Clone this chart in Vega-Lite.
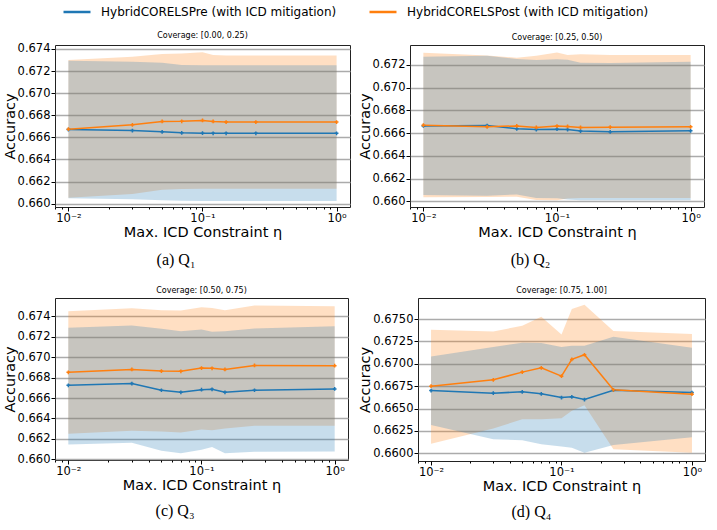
{
  "$schema": "https://vega.github.io/schema/vega-lite/v6.json",
  "background": "white",
  "padding": {"left": 1, "top": 4, "right": 0, "bottom": 0},
  "datasets": {
    "acc": [
      {"panel": "Q1", "method": "Pre", "eta": 0.01, "mean": 0.66671, "lo": 0.66050, "hi": 0.67294},
      {"panel": "Q1", "method": "Pre", "eta": 0.03, "mean": 0.66662, "lo": 0.66040, "hi": 0.67285},
      {"panel": "Q1", "method": "Pre", "eta": 0.05, "mean": 0.66650, "lo": 0.66030, "hi": 0.67276},
      {"panel": "Q1", "method": "Pre", "eta": 0.07, "mean": 0.66641, "lo": 0.66026, "hi": 0.67255},
      {"panel": "Q1", "method": "Pre", "eta": 0.1, "mean": 0.66638, "lo": 0.66024, "hi": 0.67252},
      {"panel": "Q1", "method": "Pre", "eta": 0.12, "mean": 0.66637, "lo": 0.66024, "hi": 0.67252},
      {"panel": "Q1", "method": "Pre", "eta": 0.15, "mean": 0.66637, "lo": 0.66024, "hi": 0.67252},
      {"panel": "Q1", "method": "Pre", "eta": 0.25, "mean": 0.66637, "lo": 0.66024, "hi": 0.67252},
      {"panel": "Q1", "method": "Pre", "eta": 1, "mean": 0.66637, "lo": 0.66024, "hi": 0.67252},
      {"panel": "Q1", "method": "Post", "eta": 0.01, "mean": 0.66674, "lo": 0.66054, "hi": 0.67300},
      {"panel": "Q1", "method": "Post", "eta": 0.03, "mean": 0.66714, "lo": 0.66088, "hi": 0.67330},
      {"panel": "Q1", "method": "Post", "eta": 0.05, "mean": 0.66744, "lo": 0.66127, "hi": 0.67355},
      {"panel": "Q1", "method": "Post", "eta": 0.07, "mean": 0.66745, "lo": 0.66133, "hi": 0.67358},
      {"panel": "Q1", "method": "Post", "eta": 0.1, "mean": 0.66753, "lo": 0.66136, "hi": 0.67370},
      {"panel": "Q1", "method": "Post", "eta": 0.12, "mean": 0.66744, "lo": 0.66136, "hi": 0.67346},
      {"panel": "Q1", "method": "Post", "eta": 0.15, "mean": 0.66739, "lo": 0.66136, "hi": 0.67340},
      {"panel": "Q1", "method": "Post", "eta": 0.25, "mean": 0.66739, "lo": 0.66136, "hi": 0.67340},
      {"panel": "Q1", "method": "Post", "eta": 1, "mean": 0.66739, "lo": 0.66136, "hi": 0.67340},

      {"panel": "Q2", "method": "Pre", "eta": 0.01, "mean": 0.66664, "lo": 0.66055, "hi": 0.67273},
      {"panel": "Q2", "method": "Pre", "eta": 0.03, "mean": 0.66667, "lo": 0.66050, "hi": 0.67282},
      {"panel": "Q2", "method": "Pre", "eta": 0.05, "mean": 0.66638, "lo": 0.66060, "hi": 0.67253},
      {"panel": "Q2", "method": "Pre", "eta": 0.07, "mean": 0.66632, "lo": 0.66030, "hi": 0.67244},
      {"panel": "Q2", "method": "Pre", "eta": 0.1, "mean": 0.66635, "lo": 0.66028, "hi": 0.67250},
      {"panel": "Q2", "method": "Pre", "eta": 0.12, "mean": 0.66632, "lo": 0.66015, "hi": 0.67247},
      {"panel": "Q2", "method": "Pre", "eta": 0.15, "mean": 0.66618, "lo": 0.66010, "hi": 0.67220},
      {"panel": "Q2", "method": "Pre", "eta": 0.25, "mean": 0.66612, "lo": 0.66010, "hi": 0.67218},
      {"panel": "Q2", "method": "Pre", "eta": 1, "mean": 0.66621, "lo": 0.66010, "hi": 0.67229},
      {"panel": "Q2", "method": "Post", "eta": 0.01, "mean": 0.66670, "lo": 0.66035, "hi": 0.67308},
      {"panel": "Q2", "method": "Post", "eta": 0.03, "mean": 0.66656, "lo": 0.66038, "hi": 0.67284},
      {"panel": "Q2", "method": "Post", "eta": 0.05, "mean": 0.66664, "lo": 0.66040, "hi": 0.67264},
      {"panel": "Q2", "method": "Post", "eta": 0.07, "mean": 0.66650, "lo": 0.66012, "hi": 0.67282},
      {"panel": "Q2", "method": "Post", "eta": 0.1, "mean": 0.66662, "lo": 0.66009, "hi": 0.67311},
      {"panel": "Q2", "method": "Post", "eta": 0.12, "mean": 0.66659, "lo": 0.66025, "hi": 0.67288},
      {"panel": "Q2", "method": "Post", "eta": 0.15, "mean": 0.66650, "lo": 0.66030, "hi": 0.67294},
      {"panel": "Q2", "method": "Post", "eta": 0.25, "mean": 0.66653, "lo": 0.66030, "hi": 0.67288},
      {"panel": "Q2", "method": "Post", "eta": 1, "mean": 0.66656, "lo": 0.66030, "hi": 0.67288},

      {"panel": "Q3", "method": "Pre", "eta": 0.01, "mean": 0.66724, "lo": 0.66146, "hi": 0.67286},
      {"panel": "Q3", "method": "Pre", "eta": 0.03, "mean": 0.66741, "lo": 0.66163, "hi": 0.67309},
      {"panel": "Q3", "method": "Pre", "eta": 0.05, "mean": 0.66676, "lo": 0.66085, "hi": 0.67277},
      {"panel": "Q3", "method": "Pre", "eta": 0.07, "mean": 0.66656, "lo": 0.66059, "hi": 0.67254},
      {"panel": "Q3", "method": "Pre", "eta": 0.1, "mean": 0.66682, "lo": 0.66094, "hi": 0.67270},
      {"panel": "Q3", "method": "Pre", "eta": 0.12, "mean": 0.66685, "lo": 0.66120, "hi": 0.67247},
      {"panel": "Q3", "method": "Pre", "eta": 0.15, "mean": 0.66656, "lo": 0.66059, "hi": 0.67254},
      {"panel": "Q3", "method": "Pre", "eta": 0.25, "mean": 0.66676, "lo": 0.66075, "hi": 0.67280},
      {"panel": "Q3", "method": "Pre", "eta": 1, "mean": 0.66689, "lo": 0.66078, "hi": 0.67303},
      {"panel": "Q3", "method": "Post", "eta": 0.01, "mean": 0.66851, "lo": 0.66250, "hi": 0.67449},
      {"panel": "Q3", "method": "Post", "eta": 0.03, "mean": 0.66880, "lo": 0.66280, "hi": 0.67478},
      {"panel": "Q3", "method": "Post", "eta": 0.05, "mean": 0.66864, "lo": 0.66273, "hi": 0.67458},
      {"panel": "Q3", "method": "Post", "eta": 0.07, "mean": 0.66861, "lo": 0.66263, "hi": 0.67455},
      {"panel": "Q3", "method": "Post", "eta": 0.1, "mean": 0.66893, "lo": 0.66292, "hi": 0.67488},
      {"panel": "Q3", "method": "Post", "eta": 0.12, "mean": 0.66890, "lo": 0.66286, "hi": 0.67481},
      {"panel": "Q3", "method": "Post", "eta": 0.15, "mean": 0.66880, "lo": 0.66302, "hi": 0.67458},
      {"panel": "Q3", "method": "Post", "eta": 0.25, "mean": 0.66919, "lo": 0.66328, "hi": 0.67504},
      {"panel": "Q3", "method": "Post", "eta": 1, "mean": 0.66916, "lo": 0.66328, "hi": 0.67497},

      {"panel": "Q4", "method": "Pre", "eta": 0.01, "mean": 0.66701, "lo": 0.66317, "hi": 0.67082},
      {"panel": "Q4", "method": "Pre", "eta": 0.03, "mean": 0.66672, "lo": 0.66157, "hi": 0.67187},
      {"panel": "Q4", "method": "Pre", "eta": 0.05, "mean": 0.66687, "lo": 0.66146, "hi": 0.67235},
      {"panel": "Q4", "method": "Pre", "eta": 0.07, "mean": 0.66664, "lo": 0.66101, "hi": 0.67231},
      {"panel": "Q4", "method": "Pre", "eta": 0.1, "mean": 0.66623, "lo": 0.66075, "hi": 0.67187},
      {"panel": "Q4", "method": "Pre", "eta": 0.12, "mean": 0.66631, "lo": 0.66063, "hi": 0.67201},
      {"panel": "Q4", "method": "Pre", "eta": 0.15, "mean": 0.66601, "lo": 0.66007, "hi": 0.67201},
      {"panel": "Q4", "method": "Pre", "eta": 0.25, "mean": 0.66705, "lo": 0.66093, "hi": 0.67302},
      {"panel": "Q4", "method": "Pre", "eta": 1, "mean": 0.66679, "lo": 0.66179, "hi": 0.67179},
      {"panel": "Q4", "method": "Post", "eta": 0.01, "mean": 0.66750, "lo": 0.66108, "hi": 0.67381},
      {"panel": "Q4", "method": "Post", "eta": 0.03, "mean": 0.66821, "lo": 0.66276, "hi": 0.67362},
      {"panel": "Q4", "method": "Post", "eta": 0.05, "mean": 0.66907, "lo": 0.66381, "hi": 0.67425},
      {"panel": "Q4", "method": "Post", "eta": 0.07, "mean": 0.66955, "lo": 0.66381, "hi": 0.67526},
      {"panel": "Q4", "method": "Post", "eta": 0.1, "mean": 0.66862, "lo": 0.66392, "hi": 0.67328},
      {"panel": "Q4", "method": "Post", "eta": 0.12, "mean": 0.67049, "lo": 0.66474, "hi": 0.67612},
      {"panel": "Q4", "method": "Post", "eta": 0.15, "mean": 0.67101, "lo": 0.66537, "hi": 0.67660},
      {"panel": "Q4", "method": "Post", "eta": 0.25, "mean": 0.66709, "lo": 0.66045, "hi": 0.67366},
      {"panel": "Q4", "method": "Post", "eta": 1, "mean": 0.66660, "lo": 0.66007, "hi": 0.67332}
    ]
  },
  "data": {"name": "acc"},
  "spacing": 18,
  "vconcat": [
    {
      "spacing": 5,
      "hconcat": [
        {
          "title": {"text": "(a) Q₁", "orient": "bottom", "anchor": "middle", "frame": "bounds", "font": "Liberation Serif", "fontSize": 16, "fontWeight": "normal", "color": "#000", "offset": 12},
          "vconcat": [
            {
              "width": 295, "height": 162,
              "title": {"text": "Coverage: [0.00, 0.25)"},
              "transform": [{"filter": "datum.panel === 'Q1'"}],
              "encoding": {
                "x": {"field": "eta", "type": "quantitative", "title": "Max. ICD Constraint η",
                  "scale": {"type": "log", "domain": [0.0079433, 1.2589254], "nice": false},
                  "axis": {"values": [0.008, 0.009, 0.01, 0.02, 0.03, 0.04, 0.05, 0.06, 0.07, 0.08, 0.09, 0.1, 0.2, 0.3, 0.4, 0.5, 0.6, 0.7, 0.8, 0.9, 1],
                    "labelExpr": "datum.value == 0.01 ? '10⁻²' : datum.value == 0.1 ? '10⁻¹' : datum.value == 1 ? '10⁰' : ''",
                    "tickSize": {"condition": {"test": "datum.value == 0.01 || datum.value == 0.1 || datum.value == 1", "value": 4}, "value": 2}}}
              },
              "layer": [
                {
                  "transform": [{"filter": "datum.method === 'Post'"}],
                  "mark": {"type": "area", "fill": "#ff7f0e", "fillOpacity": 0.25},
                  "encoding": {
                    "y": {"field": "lo", "type": "quantitative", "title": "Accuracy", "scale": {"domain": [0.65970, 0.67436], "nice": false, "zero": false},
                      "axis": {"values": [0.660, 0.662, 0.664, 0.666, 0.668, 0.670, 0.672, 0.674], "format": ".3f"}},
                    "y2": {"field": "hi"}
                  }
                },
                {
                  "transform": [{"filter": "datum.method === 'Pre'"}],
                  "mark": {"type": "area", "fill": "#1f77b4", "fillOpacity": 0.25},
                  "encoding": {
                    "y": {"field": "lo", "type": "quantitative", "title": "Accuracy", "scale": {"domain": [0.65970, 0.67436], "nice": false, "zero": false},
                      "axis": {"values": [0.660, 0.662, 0.664, 0.666, 0.668, 0.670, 0.672, 0.674], "format": ".3f"}},
                    "y2": {"field": "hi"}
                  }
                },
                {
                  "mark": {"type": "line", "strokeWidth": 1.5, "point": {"shape": "cross", "size": 14, "filled": true}},
                  "encoding": {
                    "y": {"field": "mean", "type": "quantitative", "title": "Accuracy", "scale": {"domain": [0.65970, 0.67436], "nice": false, "zero": false},
                      "axis": {"values": [0.660, 0.662, 0.664, 0.666, 0.668, 0.670, 0.672, 0.674], "format": ".3f"}},
                    "color": {"field": "method", "type": "nominal",
                      "scale": {"domain": ["Pre", "Post"], "range": ["#1f77b4", "#ff7f0e"]},
                      "legend": {"orient": "none", "legendX": 14, "legendY": -41, "direction": "horizontal", "title": null,
                        "labelExpr": "'HybridCORELS' + datum.label + ' (with ICD mitigation)'"}}
                  }
                }
              ]
            }
          ]
        },
        {
          "title": {"text": "(b) Q₂", "orient": "bottom", "anchor": "middle", "frame": "bounds", "font": "Liberation Serif", "fontSize": 16, "fontWeight": "normal", "color": "#000", "offset": 12},
          "vconcat": [
            {
              "width": 294, "height": 162,
              "title": {"text": "Coverage: [0.25, 0.50)"},
              "transform": [{"filter": "datum.panel === 'Q2'"}],
              "encoding": {
                "x": {"field": "eta", "type": "quantitative", "title": "Max. ICD Constraint η",
                  "scale": {"type": "log", "domain": [0.0079433, 1.2589254], "nice": false},
                  "axis": {"values": [0.008, 0.009, 0.01, 0.02, 0.03, 0.04, 0.05, 0.06, 0.07, 0.08, 0.09, 0.1, 0.2, 0.3, 0.4, 0.5, 0.6, 0.7, 0.8, 0.9, 1],
                    "labelExpr": "datum.value == 0.01 ? '10⁻²' : datum.value == 0.1 ? '10⁻¹' : datum.value == 1 ? '10⁰' : ''",
                    "tickSize": {"condition": {"test": "datum.value == 0.01 || datum.value == 0.1 || datum.value == 1", "value": 4}, "value": 2}}}
              },
              "layer": [
                {
                  "transform": [{"filter": "datum.method === 'Post'"}],
                  "mark": {"type": "area", "fill": "#ff7f0e", "fillOpacity": 0.25},
                  "encoding": {
                    "y": {"field": "lo", "type": "quantitative", "title": "Accuracy", "scale": {"domain": [0.65950, 0.67376], "nice": false, "zero": false},
                      "axis": {"values": [0.660, 0.662, 0.664, 0.666, 0.668, 0.670, 0.672], "format": ".3f"}},
                    "y2": {"field": "hi"}
                  }
                },
                {
                  "transform": [{"filter": "datum.method === 'Pre'"}],
                  "mark": {"type": "area", "fill": "#1f77b4", "fillOpacity": 0.25},
                  "encoding": {
                    "y": {"field": "lo", "type": "quantitative", "title": "Accuracy", "scale": {"domain": [0.65950, 0.67376], "nice": false, "zero": false},
                      "axis": {"values": [0.660, 0.662, 0.664, 0.666, 0.668, 0.670, 0.672], "format": ".3f"}},
                    "y2": {"field": "hi"}
                  }
                },
                {
                  "mark": {"type": "line", "strokeWidth": 1.5, "point": {"shape": "cross", "size": 14, "filled": true}},
                  "encoding": {
                    "y": {"field": "mean", "type": "quantitative", "title": "Accuracy", "scale": {"domain": [0.65950, 0.67376], "nice": false, "zero": false},
                      "axis": {"values": [0.660, 0.662, 0.664, 0.666, 0.668, 0.670, 0.672], "format": ".3f"}},
                    "color": {"field": "method", "type": "nominal",
                      "scale": {"domain": ["Pre", "Post"], "range": ["#1f77b4", "#ff7f0e"]},
                      "legend": {"orient": "none", "legendX": 14, "legendY": -41, "direction": "horizontal", "title": null,
                        "labelExpr": "'HybridCORELS' + datum.label + ' (with ICD mitigation)'"}}
                  }
                }
              ]
            }
          ]
        }
      ]
    },
    {
      "spacing": 8,
      "hconcat": [
        {
          "title": {"text": "(c) Q₃", "orient": "bottom", "anchor": "middle", "frame": "bounds", "font": "Liberation Serif", "fontSize": 16, "fontWeight": "normal", "color": "#000", "offset": 10},
          "vconcat": [
            {
              "width": 293, "height": 162,
              "title": {"text": "Coverage: [0.50, 0.75)"},
              "transform": [{"filter": "datum.panel === 'Q3'"}],
              "encoding": {
                "x": {"field": "eta", "type": "quantitative", "title": "Max. ICD Constraint η",
                  "scale": {"type": "log", "domain": [0.0079433, 1.2589254], "nice": false},
                  "axis": {"values": [0.008, 0.009, 0.01, 0.02, 0.03, 0.04, 0.05, 0.06, 0.07, 0.08, 0.09, 0.1, 0.2, 0.3, 0.4, 0.5, 0.6, 0.7, 0.8, 0.9, 1],
                    "labelExpr": "datum.value == 0.01 ? '10⁻²' : datum.value == 0.1 ? '10⁻¹' : datum.value == 1 ? '10⁰' : ''",
                    "tickSize": {"condition": {"test": "datum.value == 0.01 || datum.value == 0.1 || datum.value == 1", "value": 4}, "value": 2}}}
              },
              "layer": [
                {
                  "transform": [{"filter": "datum.method === 'Post'"}],
                  "mark": {"type": "area", "fill": "#ff7f0e", "fillOpacity": 0.25},
                  "encoding": {
                    "y": {"field": "lo", "type": "quantitative", "title": "Accuracy", "scale": {"domain": [0.65994, 0.67578], "nice": false, "zero": false},
                      "axis": {"values": [0.660, 0.662, 0.664, 0.666, 0.668, 0.670, 0.672, 0.674], "format": ".3f"}},
                    "y2": {"field": "hi"}
                  }
                },
                {
                  "transform": [{"filter": "datum.method === 'Pre'"}],
                  "mark": {"type": "area", "fill": "#1f77b4", "fillOpacity": 0.25},
                  "encoding": {
                    "y": {"field": "lo", "type": "quantitative", "title": "Accuracy", "scale": {"domain": [0.65994, 0.67578], "nice": false, "zero": false},
                      "axis": {"values": [0.660, 0.662, 0.664, 0.666, 0.668, 0.670, 0.672, 0.674], "format": ".3f"}},
                    "y2": {"field": "hi"}
                  }
                },
                {
                  "mark": {"type": "line", "strokeWidth": 1.5, "point": {"shape": "cross", "size": 14, "filled": true}},
                  "encoding": {
                    "y": {"field": "mean", "type": "quantitative", "title": "Accuracy", "scale": {"domain": [0.65994, 0.67578], "nice": false, "zero": false},
                      "axis": {"values": [0.660, 0.662, 0.664, 0.666, 0.668, 0.670, 0.672, 0.674], "format": ".3f"}},
                    "color": {"field": "method", "type": "nominal",
                      "scale": {"domain": ["Pre", "Post"], "range": ["#1f77b4", "#ff7f0e"]},
                      "legend": {"orient": "none", "legendX": 14, "legendY": -41, "direction": "horizontal", "title": null,
                        "labelExpr": "'HybridCORELS' + datum.label + ' (with ICD mitigation)'"}}
                  }
                }
              ]
            }
          ]
        },
        {
          "title": {"text": "(d) Q₄", "orient": "bottom", "anchor": "middle", "frame": "bounds", "font": "Liberation Serif", "fontSize": 16, "fontWeight": "normal", "color": "#000", "offset": 10},
          "vconcat": [
            {
              "width": 287, "height": 163,
              "title": {"text": "Coverage: [0.75, 1.00]"},
              "transform": [{"filter": "datum.panel === 'Q4'"}],
              "encoding": {
                "x": {"field": "eta", "type": "quantitative", "title": "Max. ICD Constraint η",
                  "scale": {"type": "log", "domain": [0.0079433, 1.2589254], "nice": false},
                  "axis": {"values": [0.008, 0.009, 0.01, 0.02, 0.03, 0.04, 0.05, 0.06, 0.07, 0.08, 0.09, 0.1, 0.2, 0.3, 0.4, 0.5, 0.6, 0.7, 0.8, 0.9, 1],
                    "labelExpr": "datum.value == 0.01 ? '10⁻²' : datum.value == 0.1 ? '10⁻¹' : datum.value == 1 ? '10⁰' : ''",
                    "tickSize": {"condition": {"test": "datum.value == 0.01 || datum.value == 0.1 || datum.value == 1", "value": 4}, "value": 2}}}
              },
              "layer": [
                {
                  "transform": [{"filter": "datum.method === 'Post'"}],
                  "mark": {"type": "area", "fill": "#ff7f0e", "fillOpacity": 0.25},
                  "encoding": {
                    "y": {"field": "lo", "type": "quantitative", "title": "Accuracy", "scale": {"domain": [0.65914, 0.67735], "nice": false, "zero": false},
                      "axis": {"values": [0.6600, 0.6625, 0.6650, 0.6675, 0.6700, 0.6725, 0.6750], "format": ".4f"}},
                    "y2": {"field": "hi"}
                  }
                },
                {
                  "transform": [{"filter": "datum.method === 'Pre'"}],
                  "mark": {"type": "area", "fill": "#1f77b4", "fillOpacity": 0.25},
                  "encoding": {
                    "y": {"field": "lo", "type": "quantitative", "title": "Accuracy", "scale": {"domain": [0.65914, 0.67735], "nice": false, "zero": false},
                      "axis": {"values": [0.6600, 0.6625, 0.6650, 0.6675, 0.6700, 0.6725, 0.6750], "format": ".4f"}},
                    "y2": {"field": "hi"}
                  }
                },
                {
                  "mark": {"type": "line", "strokeWidth": 1.5, "point": {"shape": "cross", "size": 14, "filled": true}},
                  "encoding": {
                    "y": {"field": "mean", "type": "quantitative", "title": "Accuracy", "scale": {"domain": [0.65914, 0.67735], "nice": false, "zero": false},
                      "axis": {"values": [0.6600, 0.6625, 0.6650, 0.6675, 0.6700, 0.6725, 0.6750], "format": ".4f"}},
                    "color": {"field": "method", "type": "nominal",
                      "scale": {"domain": ["Pre", "Post"], "range": ["#1f77b4", "#ff7f0e"]},
                      "legend": {"orient": "none", "legendX": 14, "legendY": -41, "direction": "horizontal", "title": null,
                        "labelExpr": "'HybridCORELS' + datum.label + ' (with ICD mitigation)'"}}
                  }
                }
              ]
            }
          ]
        }
      ]
    }
  ],
  "resolve": {"scale": {"y": "independent", "x": "independent"}},
  "config": {
    "font": "DejaVu Sans",
    "view": {"stroke": "#222222", "strokeWidth": 1},
    "title": {"font": "DejaVu Sans", "fontSize": 8, "fontWeight": "normal", "color": "#000000", "offset": 3},
    "axis": {
      "labelFont": "DejaVu Sans", "labelFontSize": 11.5, "labelColor": "#000000",
      "titleFont": "DejaVu Sans", "titleFontSize": 14.5, "titleFontWeight": "normal", "titleColor": "#000000",
      "tickColor": "#000000", "tickWidth": 1, "domain": false, "zindex": 1
    },
    "axisX": {"grid": false, "labelPadding": 1, "titlePadding": 2, "labelOverlap": false, "labelFlush": false},
    "axisY": {"grid": true, "gridColor": "#ababab", "gridWidth": 1.5, "tickSize": 4, "labelPadding": 1, "titlePadding": 0},
    "legend": {
      "padding": 0, "labelLimit": 0,
      "symbolType": "M-2,0L2,0", "symbolSize": 182, "symbolStrokeWidth": 2.5,
      "labelFont": "DejaVu Sans", "labelFontSize": 12, "labelColor": "#000000",
      "columnPadding": 27, "labelOffset": 16
    }
  }
}
